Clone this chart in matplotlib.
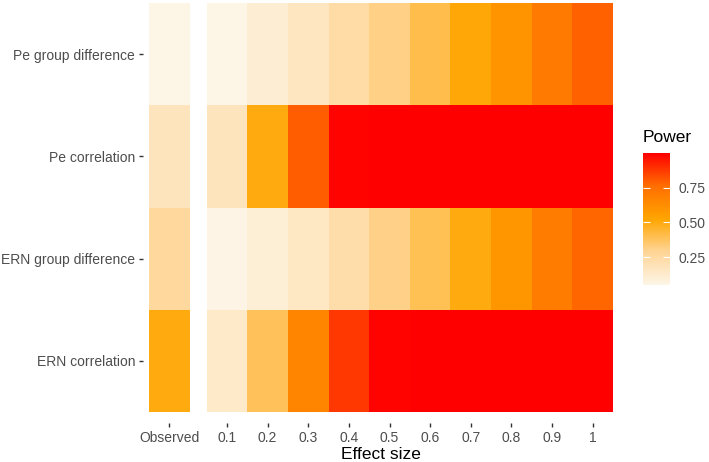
import numpy as np
import matplotlib
matplotlib.use("Agg")
from matplotlib import pyplot as plt
from matplotlib.colors import LinearSegmentedColormap, Normalize

# rows, top to bottom
measures = ["Pe group difference", "Pe correlation",
            "ERN group difference", "ERN correlation"]
effect_sizes = ["0.1", "0.2", "0.3", "0.4", "0.5",
                "0.6", "0.7", "0.8", "0.9", "1"]

# observed power for each measure
observed = [0.05, 0.175, 0.267, 0.50]

# simulated power per effect size
pe_group = [0.05, 0.107, 0.163, 0.243, 0.317, 0.403, 0.514, 0.60, 0.707, 0.79]
pe_corr = [0.175, 0.50, 0.798, 0.99, 1.0, 1.0, 1.0, 1.0, 1.0, 1.0]
ern_group = [0.055, 0.10, 0.155, 0.23, 0.31, 0.395, 0.50, 0.59, 0.70, 0.78]
ern_corr = [0.142, 0.383, 0.667, 0.88, 0.99, 1.0, 1.0, 1.0, 1.0, 1.0]

tick_grey = "#4D4D4D"
plt.rcParams["font.family"] = ["Liberation Sans", "DejaVu Sans"]


def main():
    sim = np.array([pe_group, pe_corr, ern_group, ern_corr])
    obs = np.array(observed).reshape(-1, 1)
    vmin = min(sim.min(), obs.min())
    vmax = max(sim.max(), obs.max())

    cmap = LinearSegmentedColormap.from_list(
        "power",
        [(0.0, "#FDF5E6"), (0.25, "#FFD596"), (0.5, "#FFA500"),
         (0.75, "#FF6E00"), (1.0, "#FF0000")])
    norm = Normalize(vmin=vmin, vmax=vmax)

    fig = plt.figure(figsize=(7.09, 4.62), dpi=100)
    ax = fig.add_axes([149 / 709, 50 / 462, 464 / 709, 409 / 462])

    n = len(measures)
    y_edges = np.arange(n + 1)
    gap = 0.42
    obs_edges = np.array([-0.5, 0.5])
    sim_edges = 0.5 + gap + np.arange(len(effect_sizes) + 1)

    ax.pcolormesh(obs_edges, y_edges, obs, cmap=cmap, norm=norm)
    mesh = ax.pcolormesh(sim_edges, y_edges, sim, cmap=cmap, norm=norm)

    ax.set_xlim(-0.5, sim_edges[-1])
    ax.set_ylim(n, 0)

    xticks = [0] + list((sim_edges[:-1] + sim_edges[1:]) / 2)
    ax.set_xticks(xticks)
    ax.set_xticklabels(["Observed"] + effect_sizes)
    ax.set_yticks(np.arange(n) + 0.5)
    ax.set_yticklabels(measures)

    for s in ax.spines.values():
        s.set_visible(False)
    ax.spines["bottom"].set_position(("outward", 8))
    ax.spines["left"].set_position(("outward", 4))
    ax.tick_params(axis="both", length=3, width=1, color="#333333",
                   labelcolor=tick_grey, labelsize=10, pad=3)
    ax.set_xlabel("Effect size", fontsize=12.5, labelpad=1)

    # colour bar
    cax = fig.add_axes([643 / 709, 177 / 462, 27 / 709, 132 / 462])
    cb = fig.colorbar(mesh, cax=cax, ticks=[0.25, 0.5, 0.75])
    cb.outline.set_visible(False)
    cb.ax.set_yticklabels(["0.25", "0.50", "0.75"])
    cb.ax.tick_params(direction="in", length=5, width=0.8, color="white",
                      left=True, right=True, labelcolor=tick_grey,
                      labelsize=10, pad=6)
    fig.text(643 / 709, 324 / 462, "Power", fontsize=12.5, ha="left",
             va="center")

    fig.savefig("out.png", dpi=100)


if __name__ == "__main__":
    main()
